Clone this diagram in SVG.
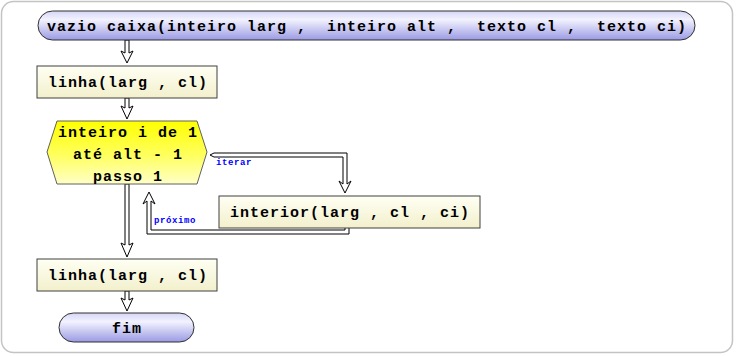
<svg xmlns="http://www.w3.org/2000/svg" width="736" height="356" viewBox="0 0 736 356">
  <defs>
    <linearGradient id="termFill" x1="0" y1="0" x2="0" y2="1">
      <stop offset="0" stop-color="#d6d6f6"/>
      <stop offset="0.3" stop-color="#f2f2ff"/>
      <stop offset="1" stop-color="#9a9ae4"/>
    </linearGradient>
    <linearGradient id="boxFill" x1="0" y1="0" x2="0" y2="1">
      <stop offset="0" stop-color="#fffff4"/>
      <stop offset="1" stop-color="#f2f0cc"/>
    </linearGradient>
    <linearGradient id="loopFill" x1="0" y1="0" x2="0" y2="1">
      <stop offset="0" stop-color="#ffff00"/>
      <stop offset="0.55" stop-color="#ffff60"/>
      <stop offset="1" stop-color="#ffffc8"/>
    </linearGradient>
    <style>
      .frame { fill: #ffffff; stroke: #c4c4c4; stroke-width: 1.5; }
      .term { fill: url(#termFill); stroke: #303030; stroke-width: 1; }
      .box { fill: url(#boxFill); stroke: #404040; stroke-width: 1; }
      .loop { fill: url(#loopFill); stroke: #606060; stroke-width: 1; }
      .flow { fill: #ffffff; stroke: #000000; stroke-width: 1; stroke-linejoin: miter; }
      .t { font-family: "Liberation Mono", "Courier New", monospace; font-weight: bold; font-size: 15px; letter-spacing: 1px; fill: #000000; text-anchor: middle; white-space: pre; }
      .lbl { font-family: "Liberation Mono", "Courier New", monospace; font-weight: bold; font-size: 9px; letter-spacing: 0.6px; fill: #0000ff; }
    </style>
  </defs>

  <rect class="frame" x="1.5" y="1.5" width="731" height="351" rx="12"/>

  <!-- connectors: hollow double-line arrows -->
  <g id="connectors">
    <path class="flow" d="M125,40 L125,53 L121,51 L127,63 L133,51 L129,53 L129,40 Z"/>
    <path class="flow" d="M125,98 L125,108 L121,106 L127,119 L133,106 L129,108 L129,98 Z"/>
    <path class="flow" d="M210,155 L214,153 L347,153 L347,184 L351,181 L345,193 L339,181 L343,184 L343,157 L214,157 Z"/>
    <path class="flow" d="M345,228 L345,230 L151,230 L151,201 L155,204 L149,192 L143,204 L147,201 L147,234 L349,234 L349,228"/>
    <path class="flow" d="M125,184 L125,245 L121,243 L127,257 L133,243 L129,245 L129,184 Z"/>
    <path class="flow" d="M125,291 L125,300 L121,298 L127,311 L133,298 L129,300 L129,291 Z"/>
    <text class="lbl" x="216" y="165">iterar</text>
    <text class="lbl" x="154" y="223">próximo</text>
  </g>

  <g id="inicio">
    <rect class="term" x="38" y="11" width="657" height="29" rx="14.5"/>
    <text class="t" x="367" y="31" xml:space="preserve">vazio caixa(inteiro larg ,  inteiro alt ,  texto cl ,  texto ci)</text>
  </g>

  <g id="linha1">
    <rect class="box" x="37" y="66" width="180" height="32"/>
    <text class="t" x="128" y="87">linha(larg , cl)</text>
  </g>

  <g id="para">
    <polygon class="loop" points="47,152 57,121 197,121 207,152 197,184 57,184"/>
    <text class="t" x="128" y="137">inteiro i de 1</text>
    <text class="t" x="128" y="159">até alt - 1</text>
    <text class="t" x="128" y="181">passo 1</text>
  </g>

  <g id="interior">
    <rect class="box" x="219" y="196" width="261" height="32"/>
    <text class="t" x="350" y="217">interior(larg , cl , ci)</text>
  </g>

  <g id="linha2">
    <rect class="box" x="37" y="259" width="180" height="32"/>
    <text class="t" x="128" y="280">linha(larg , cl)</text>
  </g>

  <g id="fim">
    <rect class="term" x="59" y="313" width="135" height="29" rx="14.5"/>
    <text class="t" x="127" y="333">fim</text>
  </g>
</svg>
